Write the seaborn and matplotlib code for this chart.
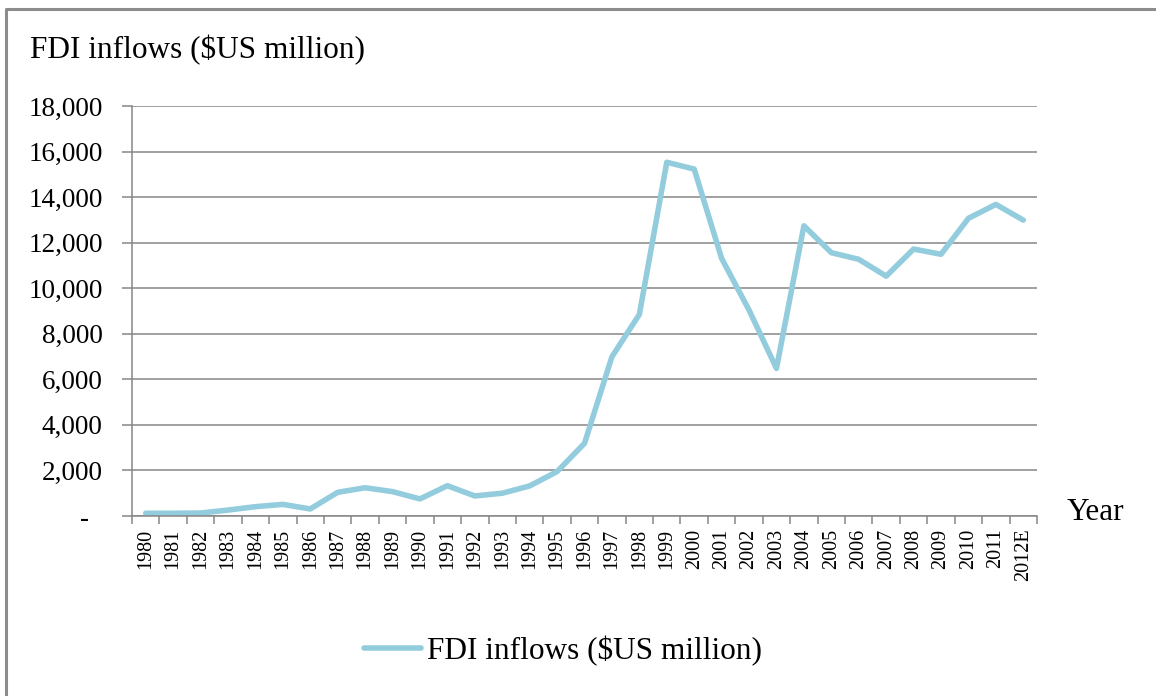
import matplotlib
matplotlib.use('Agg')
import matplotlib.pyplot as plt
from matplotlib.lines import Line2D
from matplotlib.ticker import FuncFormatter, FixedLocator
import seaborn as sns
import pandas as pd

years = ['1980', '1981', '1982', '1983', '1984', '1985', '1986', '1987', '1988', '1989',
         '1990', '1991', '1992', '1993', '1994', '1995', '1996', '1997', '1998', '1999',
         '2000', '2001', '2002', '2003', '2004', '2005', '2006', '2007', '2008', '2009',
         '2010', '2011', '2012E']
fdi = [120, 120, 130, 260, 410, 510, 310, 1040, 1240, 1070,
       750, 1330, 880, 1000, 1320, 1950, 3190, 6990, 8850, 15530,
       15230, 11310, 9040, 6480, 12740, 11560, 11270, 10530, 11720, 11490,
       13070, 13680, 12990]
series_name = 'FDI inflows ($US million)'

df = pd.DataFrame({'year': years, 'fdi': fdi})

sns.set_style('white')
plt.rcParams['font.family'] = ['Liberation Serif', 'DejaVu Serif']
plt.rcParams['text.color'] = 'black'
plt.rcParams['xtick.labelcolor'] = 'black'
plt.rcParams['ytick.labelcolor'] = 'black'

W, H = 1156, 696
fig = plt.figure(figsize=(W / 100, H / 100), dpi=100)
ax = fig.add_axes([132 / W, 1 - 516 / H, (1037 - 132) / W, (516 - 106) / H])

line_color = '#93CDDD'
grid_color = '#868686'

sns.lineplot(data=df, x='year', y='fdi', sort=False, ax=ax, color=line_color,
             linewidth=4.0, label=series_name, legend=False)

ax.set_xlim(-0.5, len(years) - 0.5)
ax.set_ylim(0, 18000)
ax.set_yticks(range(0, 18001, 2000))
ax.yaxis.set_major_formatter(FuncFormatter(lambda v, p: '-  ' if v == 0 else f'{int(v):,}'))
ax.yaxis.grid(True, color=grid_color, linewidth=1.1)
ax.set_axisbelow(True)

# category boundary ticks on the x axis
ax.xaxis.set_minor_locator(FixedLocator([i - 0.5 for i in range(len(years) + 1)]))
ax.tick_params(axis='x', which='major', length=0, pad=9, labelsize=14.5, rotation=90,
               labelcolor='black')
ax.tick_params(axis='x', which='minor', length=6, width=1.1, color=grid_color, direction='out', bottom=True)
ax.tick_params(axis='y', which='major', length=7, width=1.1, color=grid_color, direction='out',
               left=True, pad=14, labelsize=19.5, labelcolor='black')

for s in ['top', 'right']:
    ax.spines[s].set_visible(False)
for s in ['left', 'bottom']:
    ax.spines[s].set_color(grid_color)
    ax.spines[s].set_linewidth(1.1)

ax.set_xlabel('')
ax.set_ylabel('')

fig.text(30 / W, 1 - 50 / H, series_name, fontsize=22.5, va='center', ha='left', color='black')
fig.text(1067 / W, 1 - 512 / H, 'Year', fontsize=22.5, va='center', ha='left', color='black')

handle = Line2D([0], [0], color=line_color, linewidth=4.0)
fig.legend([handle], [series_name], loc='center', bbox_to_anchor=(563 / W, 1 - 651 / H),
           frameon=False, fontsize=22.5, handlelength=1.8, handletextpad=0.2, labelcolor='black')

# chart-area border (left and top only visible)
fig.add_artist(Line2D([6 / W, 6 / W, 1], [0, 1 - 9 / H, 1 - 9 / H], transform=fig.transFigure,
                      color='#8c8c8c', linewidth=2.2))

fig.savefig('out.png', dpi=100)
